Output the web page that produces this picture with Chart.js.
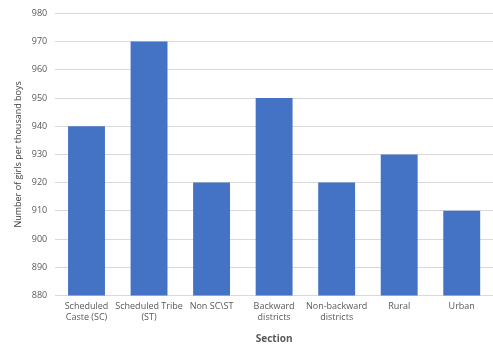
<!DOCTYPE html>
<html>
<head>
<meta charset="utf-8">
<script src="https://cdn.jsdelivr.net/npm/chart.js"></script>
<style>
  html,body{margin:0;padding:0;background:#fff}
  #wrap{width:493px;height:349px}
</style>
</head>
<body>
<div id="wrap"><canvas id="grafik" width="493" height="349"></canvas></div>
<script>
// categories and values
const sections = [
  ["Scheduled", "Caste (SC)"],
  ["Scheduled Tribe", "(ST)"],
  "Non SC\\ST",
  ["Backward", "districts"],
  ["Non-backward", "districts"],
  "Rural",
  "Urban"
];
const girlsPerThousand = [940, 970, 920, 950, 920, 930, 910];

const yMin = 880;
const yMax = 980;
const yStep = 10;

const fontFam = "'Open Sans', 'Noto Sans', sans-serif";

new Chart(document.getElementById("grafik"), {
  type: "bar",
  data: {
    labels: sections,
    datasets: [{
      label: "Girls per thousand boys",
      data: girlsPerThousand,
      backgroundColor: "#4472c4",
      categoryPercentage: 1,
      barPercentage: 0.59
    }]
  },
  options: {
    responsive: false,
    animation: false,
    layout: { padding: { top: -8, right: 0, left: 13, bottom: 0 } },
    plugins: { legend: { display: false }, tooltip: { enabled: false } },
    scales: {
      x: {
        grid: { display: false, drawTicks: false },
        border: { color: "#d9d9d9" },
        ticks: { color: "#595959", font: { family: fontFam, size: 9 }, maxRotation: 0, autoSkip: false, padding: 6 },
        title: { display: true, text: "Section", color: "#595959", font: { family: fontFam, size: 10, weight: "bold" }, padding: { top: 4 } }
      },
      y: {
        min: yMin,
        max: yMax,
        grid: { color: "#d9d9d9", drawTicks: false },
        border: { display: false },
        ticks: { stepSize: yStep, color: "#595959", font: { family: fontFam, size: 9 }, padding: 8 },
        title: { display: true, text: "Number of girls per thousand boys", color: "#404040", font: { family: fontFam, size: 9 }, padding: 0 }
      }
    }
  }
});
</script>
</body>
</html>
